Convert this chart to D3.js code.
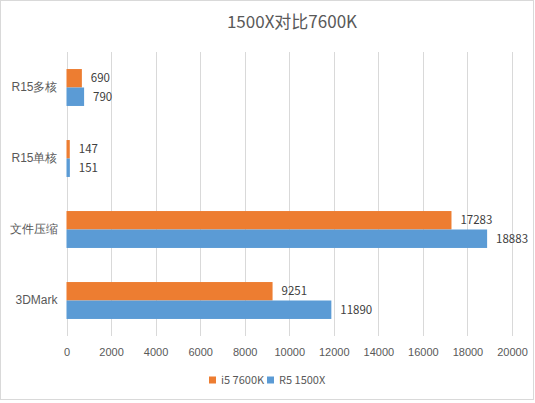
<!DOCTYPE html>
<html>
<head>
<meta charset="utf-8">
<script src="https://cdn.jsdelivr.net/npm/d3@7"></script>
<style>
  body { margin: 0; background: #fff; }
  svg { display: block; font-family: "Noto Sans CJK SC", "DejaVu Sans", sans-serif; }
</style>
</head>
<body>
<script>
// chart data
const categories = ["R15多核", "R15单核", "文件压缩", "3DMark"];
const seriesNames = ["i5 7600K", "R5 1500X"];
const i5Values = [690, 147, 17283, 9251];
const r5Values = [790, 151, 18883, 11890];
const xTicks = [0, 2000, 4000, 6000, 8000, 10000, 12000, 14000, 16000, 18000, 20000];

const colors = ["#ED7D31", "#5B9BD5"];
const width = 535, height = 403;
const margin = {left: 66.5, right: 23, top: 52, bottom: 67};

const svg = d3.select("body").append("svg")
    .attr("width", width)
    .attr("height", height);

svg.append("rect")
    .attr("x", 0.5).attr("y", 0.5)
    .attr("width", width - 2).attr("height", height - 4)
    .attr("fill", "#fff")
    .attr("stroke", "#d9d9d9");

svg.append("text")
    .attr("x", 292).attr("y", 28)
    .attr("text-anchor", "middle")
    .attr("font-size", 17)
    .attr("fill", "#595959")
    .text("1500X对比7600K");

const x = d3.scaleLinear()
    .domain([0, 20000])
    .range([margin.left, width - margin.right]);

const y = d3.scaleBand()
    .domain(categories)
    .range([margin.top, height - margin.bottom])
    .paddingInner(0.48)
    .paddingOuter(0.24);

const ySub = d3.scaleBand()
    .domain(seriesNames)
    .range([0, y.bandwidth()]);

// gridlines
svg.append("g")
    .selectAll("line")
    .data(xTicks)
    .join("line")
      .attr("x1", d => Math.round(x(d)) + 0.5)
      .attr("x2", d => Math.round(x(d)) + 0.5)
      .attr("y1", margin.top)
      .attr("y2", height - margin.bottom)
      .attr("stroke", "#d9d9d9");

// x axis labels
const xAxis = svg.append("g")
    .attr("transform", `translate(0,${height - margin.bottom})`)
    .call(d3.axisBottom(x).tickValues(xTicks).tickFormat(d3.format("d")).tickSize(0).tickPadding(12));
xAxis.select(".domain").remove();
xAxis.selectAll("text")
    .attr("font-size", 11)
    .attr("fill", "#595959");

// y axis labels
const yAxis = svg.append("g")
    .attr("transform", `translate(${margin.left - 9},0)`)
    .call(d3.axisLeft(y).tickSize(0).tickPadding(0));
yAxis.select(".domain").remove();
yAxis.selectAll("text")
    .attr("font-size", 12)
    .attr("fill", "#595959");

const rows = categories.map((c, i) => ({cat: c, vals: [i5Values[i], r5Values[i]]}));

const groups = svg.append("g")
  .selectAll("g")
  .data(rows)
  .join("g")
    .attr("transform", d => `translate(0,${y(d.cat)})`);

groups.selectAll("rect")
  .data(d => d.vals.map((v, j) => ({v, s: seriesNames[j], j})))
  .join("rect")
    .attr("x", x(0))
    .attr("y", d => ySub(d.s))
    .attr("width", d => x(d.v) - x(0))
    .attr("height", ySub.bandwidth())
    .attr("fill", d => colors[d.j]);

groups.selectAll("text")
  .data(d => d.vals.map((v, j) => ({v, s: seriesNames[j], j})))
  .join("text")
    .attr("x", d => x(d.v) + 9)
    .attr("y", d => ySub(d.s) + ySub.bandwidth() / 2)
    .attr("dy", "0.35em")
    .attr("font-size", 11.5)
    .attr("fill", "#404040")
    .text(d => d.v);

// legend
const legend = svg.append("g")
    .attr("transform", "translate(209,380)");
const legendX = [0, 58];
seriesNames.forEach((name, i) => {
  legend.append("rect")
      .attr("x", legendX[i]).attr("y", -3.5)
      .attr("width", 7).attr("height", 7)
      .attr("fill", colors[i]);
  legend.append("text")
      .attr("x", legendX[i] + 12).attr("y", 0)
      .attr("dy", "0.35em")
      .attr("font-size", 11)
      .attr("fill", "#595959")
      .text(name);
});
</script>
</body>
</html>
